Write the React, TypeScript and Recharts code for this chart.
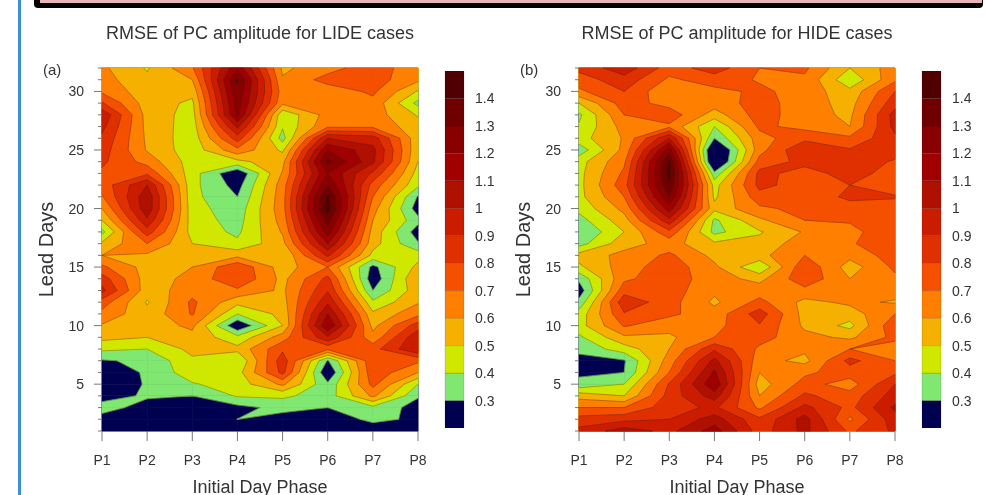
import { Bar, BarChart, Scatter, ScatterChart, XAxis, YAxis } from "recharts";

const leadDays = [32, 31, 30, 29, 28, 27, 26, 25, 24, 23, 22, 21, 20, 19, 18, 17, 16, 15, 14, 13, 12, 11, 10, 9, 8, 7, 6, 5, 4, 3, 2, 1];
const phases = ["P1", "P2", "P3", "P4", "P5", "P6", "P7", "P8"];

// each list runs from lead day 32 down to lead day 1
const lideP1 = [0.62, 0.64, 0.68, 0.81, 0.98, 0.93, 0.88, 0.85, 0.82, 0.78, 0.74, 0.69, 0.6, 0.5, 0.37, 0.52, 0.6, 0.72, 0.85, 0.93, 0.75, 0.67, 0.59, 0.53, 0.42, 0.29, 0.25, 0.22, 0.27, 0.33, 0.27, 0.2];
const lideP2 = [0.49, 0.52, 0.54, 0.55, 0.56, 0.57, 0.58, 0.59, 0.66, 0.78, 1.0, 1.07, 1.07, 0.98, 0.85, 0.7, 0.58, 0.56, 0.55, 0.54, 0.49, 0.53, 0.55, 0.5, 0.4, 0.32, 0.31, 0.31, 0.31, 0.27, 0.23, 0.2];
const lideP3 = [0.69, 0.6, 0.53, 0.48, 0.46, 0.45, 0.44, 0.44, 0.45, 0.44, 0.43, 0.43, 0.44, 0.45, 0.46, 0.5, 0.55, 0.6, 0.63, 0.66, 0.72, 0.71, 0.62, 0.57, 0.53, 0.48, 0.46, 0.39, 0.3, 0.25, 0.22, 0.2];
const lideP4 = [1.18, 1.32, 1.28, 1.25, 1.22, 1.02, 0.85, 0.67, 0.47, 0.21, 0.26, 0.3, 0.34, 0.36, 0.38, 0.42, 0.57, 0.78, 0.79, 0.68, 0.53, 0.4, 0.21, 0.43, 0.53, 0.4, 0.46, 0.45, 0.41, 0.27, 0.301, 0.2];
const lideP5 = [0.58, 0.61, 0.65, 0.62, 0.42, 0.41, 0.36, 0.48, 0.57, 0.61, 0.65, 0.66, 0.66, 0.64, 0.61, 0.57, 0.5, 0.55, 0.57, 0.58, 0.56, 0.53, 0.5, 0.65, 0.78, 0.86, 0.83, 0.62, 0.42, 0.33, 0.26, 0.2];
const lideP6 = [0.66, 0.74, 0.64, 0.63, 0.64, 0.68, 1.0, 1.2, 1.33, 1.2, 1.3, 1.42, 1.45, 1.35, 1.25, 1.1, 0.92, 0.7, 0.83, 0.89, 0.98, 1.1, 1.2, 0.98, 0.72, 0.29, 0.2, 0.32, 0.35, 0.3, 0.25, 0.2];
const lideP7 = [0.76, 0.75, 0.72, 0.67, 0.65, 0.68, 0.95, 1.03, 1.02, 0.88, 0.76, 0.7, 0.64, 0.6, 0.56, 0.54, 0.47, 0.27, 0.23, 0.3, 0.42, 0.52, 0.57, 0.63, 0.76, 0.78, 0.77, 0.73, 0.62, 0.37, 0.32, 0.25];
const lideP8 = [0.63, 0.62, 0.49, 0.37, 0.49, 0.54, 0.53, 0.52, 0.5, 0.46, 0.42, 0.29, 0.25, 0.33, 0.25, 0.31, 0.46, 0.53, 0.6, 0.56, 0.59, 0.67, 0.85, 0.98, 1.0, 0.72, 0.6, 0.4, 0.31, 0.26, 0.285, 0.2];

const hideP1 = [0.83, 0.75, 0.68, 0.5, 0.38, 0.41, 0.46, 0.34, 0.46, 0.47, 0.47, 0.47, 0.43, 0.36, 0.3, 0.36, 0.54, 0.48, 0.32, 0.24, 0.33, 0.44, 0.46, 0.38, 0.33, 0.26, 0.28, 0.33, 0.56, 0.7, 0.84, 0.93];
const hideP2 = [0.96, 0.86, 0.8, 0.75, 0.7, 0.64, 0.61, 0.63, 0.68, 0.72, 0.76, 0.7, 0.63, 0.56, 0.5, 0.56, 0.63, 0.65, 0.68, 0.76, 0.87, 0.79, 0.71, 0.58, 0.45, 0.29, 0.3, 0.4, 0.5, 0.7, 0.87, 1.05];
const hideP3 = [0.75, 0.68, 0.61, 0.66, 0.76, 0.68, 1.0, 1.25, 1.42, 1.43, 1.39, 1.3, 1.15, 0.97, 0.77, 0.64, 0.72, 0.76, 0.76, 0.75, 0.74, 0.72, 0.64, 0.58, 0.6, 0.65, 0.7, 0.81, 0.84, 0.86, 0.9, 0.97];
const hideP4 = [0.85, 0.75, 0.67, 0.65, 0.55, 0.4, 0.3, 0.11, 0.11, 0.33, 0.46, 0.48, 0.53, 0.38, 0.37, 0.52, 0.57, 0.62, 0.64, 0.62, 0.58, 0.64, 0.67, 0.7, 0.88, 1.03, 1.12, 1.18, 1.05, 0.92, 1.05, 1.15];
const hideP5 = [0.7, 0.69, 0.72, 0.74, 0.75, 0.72, 0.66, 0.66, 0.74, 0.83, 0.83, 0.76, 0.68, 0.58, 0.49, 0.53, 0.57, 0.41, 0.57, 0.65, 0.73, 0.85, 0.79, 0.74, 0.68, 0.64, 0.6, 0.55, 0.6, 0.68, 0.82, 0.85];
const hideP6 = [0.72, 0.68, 0.66, 0.65, 0.64, 0.67, 0.77, 0.9, 0.83, 0.76, 0.75, 0.74, 0.73, 0.7, 0.61, 0.66, 0.7, 0.78, 0.77, 0.67, 0.57, 0.56, 0.58, 0.63, 0.62, 0.57, 0.68, 0.74, 0.82, 0.93, 1.04, 1.03];
const hideP7 = [0.5, 0.42, 0.53, 0.56, 0.58, 0.6, 0.72, 0.81, 0.85, 0.84, 0.8, 0.82, 0.76, 0.71, 0.67, 0.69, 0.63, 0.55, 0.6, 0.63, 0.62, 0.55, 0.47, 0.58, 0.7, 0.83, 0.75, 0.65, 0.74, 0.77, 0.68, 0.78];
const hideP8 = [0.65, 0.68, 0.8, 0.86, 0.94, 0.93, 0.88, 0.84, 0.79, 0.76, 0.74, 0.81, 0.75, 0.76, 0.77, 0.76, 0.75, 0.72, 0.68, 0.64, 0.59, 0.7, 0.78, 0.73, 0.64, 0.7, 0.78, 0.9, 0.95, 1.02, 0.96, 0.92];

const lide = [lideP1, lideP2, lideP3, lideP4, lideP5, lideP6, lideP7, lideP8];
const hide = [hideP1, hideP2, hideP3, hideP4, hideP5, hideP6, hideP7, hideP8];

const levels = [0.3, 0.4, 0.5, 0.6, 0.7, 0.8, 0.9, 1.0, 1.1, 1.2, 1.3, 1.4];
const levelLabels = ["0.3", "0.4", "0.5", "0.6", "0.7", "0.8", "0.9", "1", "1.1", "1.2", "1.3", "1.4"];
const bandColors = ["#000050", "#80e870", "#d0e800", "#f5b000", "#ff8000", "#f55000", "#e03000", "#cc1c00", "#b01000", "#a00000", "#880000", "#700000", "#500000"];

const FONT = '"Liberation Sans", Arial, sans-serif';
const TEXT = "#333";
const TICK = "#777";

// plot size is fixed, so one grid cell in pixels is known
const PLOT_W = 316;
const PLOT_H = 363;
const CELL_W = PLOT_W / 7;
const CELL_H = PLOT_H / 31;

type Pt = { x: number; y: number; v: number };

function cutAbove(quad: Pt[], level: number) {
  const poly: Pt[] = [];
  const cross: Pt[] = [];
  quad.forEach((a, i) => {
    const b = quad[(i + 1) % quad.length];
    if (a.v >= level) poly.push(a);
    if (a.v >= level !== b.v >= level) {
      const t = (level - a.v) / (b.v - a.v);
      const p = { x: a.x + (b.x - a.x) * t, y: a.y + (b.y - a.y) * t, v: level };
      poly.push(p);
      cross.push(p);
    }
  });
  return { poly, cross };
}

function cellQuad(grid: number[][], props: any): Pt[] | null {
  const { col, row } = props.payload;
  if (col >= 7 || row === 0) return null;
  const { cx, cy } = props;
  return [
    { x: cx, y: cy, v: grid[col][row] },
    { x: cx + CELL_W, y: cy, v: grid[col + 1][row] },
    { x: cx + CELL_W, y: cy - CELL_H, v: grid[col + 1][row - 1] },
    { x: cx, y: cy - CELL_H, v: grid[col][row - 1] },
  ];
}

const toPoints = (pts: Pt[]) => pts.map((p) => `${p.x.toFixed(2)},${p.y.toFixed(2)}`).join(" ");

// one series per band, painted lowest first, so no cell seam shows through
const bandShape = (grid: number[][], band: number) => (props: any) => {
  const quad = cellQuad(grid, props);
  if (!quad) return <g />;
  const poly = band === 0 ? quad : cutAbove(quad, levels[band - 1]).poly;
  if (poly.length < 3) return <g />;
  return <polygon points={toPoints(poly)} fill={bandColors[band]} stroke={bandColors[band]} strokeWidth={0.7} />;
};

const lineShape = (grid: number[][]) => (props: any) => {
  const quad = cellQuad(grid, props);
  if (!quad) return <g />;
  return (
    <g stroke="#3a2410" strokeWidth={0.6} strokeOpacity={0.55}>
      {levels.map((level) => {
        const { cross } = cutAbove(quad, level);
        if (cross.length === 2) return <line key={level} x1={cross[0].x} y1={cross[0].y} x2={cross[1].x} y2={cross[1].y} />;
        if (cross.length !== 4) return null;
        const pairs = quad[0].v >= level ? [[0, 1], [2, 3]] : [[1, 2], [3, 0]];
        return pairs.map(([a, b]) => (
          <line key={`${level}-${a}`} x1={cross[a].x} y1={cross[a].y} x2={cross[b].x} y2={cross[b].y} />
        ));
      })}
    </g>
  );
};

const LeftTick = ({ x, y, payload }: any) => {
  const major = payload.value % 5 === 0;
  return (
    <g>
      <line x1={x} x2={x - (major ? 8 : 4)} y1={y} y2={y} stroke={TICK} />
      {major && (
        <text x={x - 18} y={y} textAnchor="end" dominantBaseline="central" fontSize={14} fill={TEXT}>
          {payload.value}
        </text>
      )}
    </g>
  );
};

const RightTick = ({ x, y, payload }: any) => (
  <line x1={x} x2={x + (payload.value % 5 === 0 ? 9 : 4)} y1={y} y2={y} stroke={TICK} />
);

function Panel({ grid, left, title, tag }: { grid: number[][]; left: number; title: string; tag: string }) {
  const nodes = grid.flatMap((values, col) =>
    values.map((value, row) => ({ phase: col + 1, lead: leadDays[row], value, col, row }))
  );
  return (
    <div style={{ position: "absolute", left, top: 0, width: 440, height: 495 }}>
      <ScatterChart width={440} height={495} margin={{ top: 38, right: 0, bottom: 4, left: 42 }} style={{ fontFamily: FONT }}>
        <XAxis
          xAxisId="bottom"
          type="number"
          dataKey="phase"
          domain={[1, 8]}
          ticks={[1, 2, 3, 4, 5, 6, 7, 8]}
          interval={0}
          height={60}
          tickSize={10}
          tickMargin={14}
          tickFormatter={(v: number) => phases[v - 1]}
          tick={{ fontSize: 14, fill: TEXT }}
          stroke={TICK}
          label={{ value: "Initial Day Phase", position: "insideBottom", offset: -1.5, fontSize: 18, fill: TEXT }}
        />
        <XAxis
          xAxisId="top"
          orientation="top"
          type="number"
          domain={[1, 8]}
          ticks={[1, 2, 3, 4, 5, 6, 7, 8]}
          interval={0}
          height={30}
          tickSize={10}
          tickFormatter={() => ""}
          stroke={TICK}
        />
        <YAxis
          yAxisId="left"
          type="number"
          dataKey="lead"
          domain={[1, 32]}
          ticks={[...leadDays].reverse()}
          interval={0}
          width={60}
          tickSize={0}
          tickMargin={0}
          tickLine={false}
          tick={<LeftTick />}
          stroke={TICK}
          label={{ value: "Lead Days", angle: -90, position: "insideLeft", offset: 0, fontSize: 20, fill: TEXT, dx: 4, textAnchor: "middle" }}
        />
        <YAxis
          yAxisId="right"
          orientation="right"
          type="number"
          domain={[1, 32]}
          ticks={[...leadDays].reverse()}
          interval={0}
          width={22}
          tickSize={0}
          tickMargin={0}
          tickLine={false}
          tick={<RightTick />}
          stroke={TICK}
        />
        {bandColors.map((color, band) => (
          <Scatter key={color} xAxisId="bottom" yAxisId="left" data={nodes} shape={bandShape(grid, band)} isAnimationActive={false} />
        ))}
        <Scatter xAxisId="bottom" yAxisId="left" data={nodes} shape={lineShape(grid)} isAnimationActive={false} />
      </ScatterChart>
      <div style={{ position: "absolute", left: 0, width: 520, top: 22, textAlign: "center", fontFamily: FONT, fontSize: 18, color: TEXT, lineHeight: "22px" }}>
        {title}
      </div>
      <div style={{ position: "absolute", left: 43, top: 61, fontFamily: FONT, fontSize: 15, color: TEXT, lineHeight: "18px" }}>
        {tag}
      </div>
    </div>
  );
}

const barKeys = bandColors.map((_, i) => `band${i}`);
const barRow: Record<string, number | string> = { name: "levels", base: 0.2 };
barKeys.forEach((key) => {
  barRow[key] = 0.1;
});

function ColorBar({ left }: { left: number }) {
  return (
    <div style={{ position: "absolute", left, top: 0 }}>
      <BarChart
        width={60}
        height={495}
        data={[barRow]}
        barCategoryGap={0}
        margin={{ top: 71, right: 0, bottom: 67, left: 5 }}
        style={{ fontFamily: FONT }}
      >
        <XAxis dataKey="name" hide />
        <YAxis
          orientation="right"
          type="number"
          domain={[0.2, 1.5]}
          allowDataOverflow
          ticks={levels}
          interval={0}
          width={36}
          axisLine={false}
          tickLine={false}
          tickMargin={5}
          tickFormatter={(v: number) => levelLabels[levels.indexOf(v)]}
          tick={{ fontSize: 14, fill: TEXT }}
        />
        <Bar dataKey="base" stackId="bar" fill="none" isAnimationActive={false} />
        {barKeys.map((key, i) => (
          <Bar key={key} dataKey={key} stackId="bar" fill={bandColors[i]} stroke="#000" strokeOpacity={0.25} strokeWidth={0.5} isAnimationActive={false} />
        ))}
      </BarChart>
    </div>
  );
}

export default function App() {
  return (
    <div style={{ position: "absolute", left: 0, top: 0, width: 985, height: 495, background: "#fff", overflow: "hidden", filter: "blur(0.45px)" }}>
      <div style={{ position: "absolute", left: 18, top: 0, width: 2.5, height: 495, background: "#3d8fd6" }} />
      <div style={{ position: "absolute", left: 34, top: -6, width: 949, height: 14, background: "#000", borderRadius: 4 }} />
      <div style={{ position: "absolute", left: 40, top: 0, width: 942, height: 3, background: "#e8b4b8" }} />
      <Panel grid={lide} left={0} title="RMSE of PC amplitude for LIDE cases" tag="(a)" />
      <ColorBar left={440} />
      <Panel grid={hide} left={477} title="RMSE of PC amplitude for HIDE cases" tag="(b)" />
      <ColorBar left={917} />
    </div>
  );
}
